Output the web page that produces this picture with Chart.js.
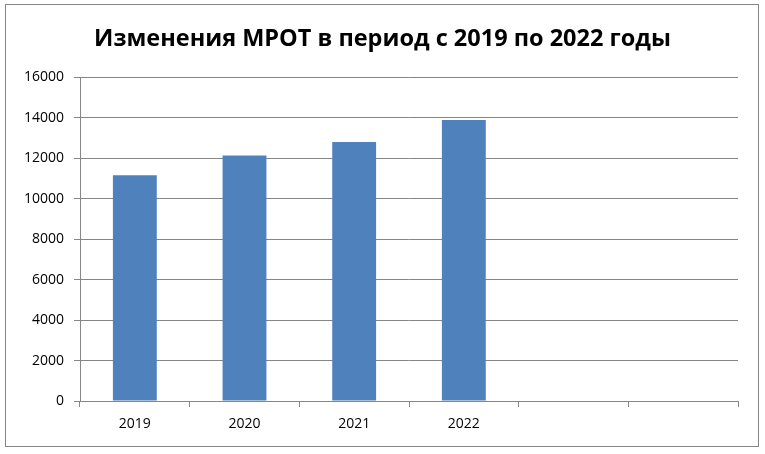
<!DOCTYPE html>
<html>
<head>
<meta charset="utf-8">
<script src="https://cdn.jsdelivr.net/npm/chart.js@4"></script>
<style>
  html, body { margin: 0; padding: 0; background: #fff; }
  #wrap { width: 765px; height: 454px; }
</style>
</head>
<body>
<div id="wrap"><canvas id="mrotChart" width="765" height="454"></canvas></div>
<script>
// Данные
const years = ['2019', '2020', '2021', '2022', '', ''];
const mrot = [11150, 12130, 12792, 13890, null, null];
const yTicks = [0, 2000, 4000, 6000, 8000, 10000, 12000, 14000, 16000];

// рамка вокруг диаграммы
const frame = {
    id: 'frame',
    beforeDraw(chart) {
        const c = chart.ctx;
        c.save();
        c.fillStyle = '#fff';
        c.fillRect(0, 0, chart.width, chart.height);
        c.strokeStyle = '#868686';
        c.lineWidth = 1;
        c.strokeRect(5.5, 4.5, 753, 442);
        c.restore();
    }
};

const ctx = document.getElementById('mrotChart').getContext('2d');
new Chart(ctx, {
    type: 'bar',
    data: {
        labels: years,
        datasets: [{
            label: 'МРОТ',
            data: mrot,
            backgroundColor: '#4F81BD',
            barPercentage: 0.4,
            categoryPercentage: 1.0
        }]
    },
    options: {
        responsive: false,
        animation: false,
        layout: { padding: 0 },
        plugins: {
            legend: { display: false },
            tooltip: { enabled: false },
            title: {
                display: true,
                text: 'Изменения МРОТ в период с 2019 по 2022 годы',
                color: '#000',
                font: { family: 'Open Sans', size: 23.5, weight: 'bold' },
                padding: { top: 25, bottom: 24 }
            }
        },
        scales: {
            x: {
                afterFit: (s) => { s.height = 53; },
                grid: {
                    offset: true,
                    drawOnChartArea: false,
                    color: '#868686',
                    tickLength: 6
                },
                border: { color: '#868686' },
                ticks: {
                    color: '#000',
                    padding: 9,
                    font: { family: 'Open Sans', size: 14 }
                }
            },
            y: {
                min: 0,
                max: 16000,
                afterFit: (s) => { s.width = 80; },
                afterBuildTicks: (s) => { s.ticks = yTicks.map(v => ({ value: v })); },
                grid: { color: '#868686', tickLength: 6 },
                border: { color: '#868686' },
                ticks: {
                    color: '#000',
                    padding: 10,
                    font: { family: 'Open Sans', size: 14 },
                    callback: (v) => String(v)
                }
            },
            // пустое место справа, чтобы заголовок был по центру
            yRight: {
                position: 'right',
                min: 0,
                max: 16000,
                afterFit: (s) => { s.width = 27; },
                grid: { display: false },
                border: { display: false },
                ticks: { display: false }
            }
        }
    },
    plugins: [frame]
});
</script>
</body>
</html>
